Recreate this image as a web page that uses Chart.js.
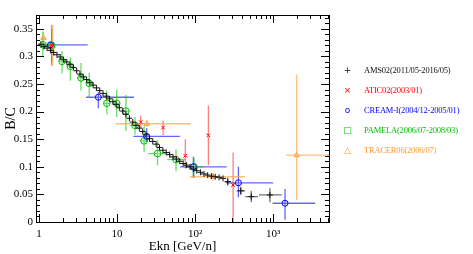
<!DOCTYPE html>
<html>
<head>
<meta charset="utf-8">
<script src="https://cdn.jsdelivr.net/npm/chart.js@4/dist/chart.umd.min.js"></script>
<style>
  html, body { margin: 0; padding: 0; background: #fff; }
  #wrap { position: relative; width: 473px; height: 254px; }
  #legend { position: absolute; left: 342px; top: 60px; font: 8.5px "Liberation Serif", serif; letter-spacing: -0.2px; }
  .row { height: 20px; display: flex; align-items: center; white-space: nowrap; }
  .mk { width: 11px; text-align: center; margin-right: 11px; font: 9px "DejaVu Sans", sans-serif; letter-spacing: 0; }
</style>
</head>
<body>
<div id="wrap">
  <canvas id="bc" width="473" height="254"></canvas>
  <div id="legend"></div>
</div>
<script>
// ---- data ----
const xTicks = [1, 10, 100, 1000];
const yTicks = [0, 0.05, 0.1, 0.15, 0.2, 0.25, 0.3, 0.35];

// AMS02 (2011/05-2016/05)
const amsE  = [1.06,1.16,1.27,1.40,1.54,1.70,1.87,2.06,2.27,2.50,2.76,3.04,3.35,3.69,4.07,4.48,4.94,5.44,6.00,6.61,7.28,8.02,8.84,9.74,10.7,11.8,13.0,14.4,15.9,17.5,19.3,21.3,23.5,26.0,28.7,31.7,35.0,38.7,42.7,47.2,52.1,57.6,63.7,70.4,77.8,86.0,95.0,105,117,130,145,162,181,203,228];
const amsBC = [0.322,0.318,0.315,0.311,0.307,0.303,0.299,0.294,0.290,0.285,0.280,0.274,0.268,0.263,0.258,0.253,0.248,0.243,0.238,0.233,0.228,0.223,0.218,0.213,0.207,0.201,0.195,0.188,0.181,0.175,0.170,0.164,0.158,0.151,0.146,0.141,0.135,0.130,0.126,0.122,0.118,0.114,0.110,0.106,0.103,0.100,0.096,0.093,0.090,0.087,0.085,0.083,0.082,0.081,0.079];
const amsTailE   = [262, 385, 525, 910];
const amsTailBC  = [0.073, 0.0565, 0.046, 0.049];
const amsTailLo  = [0.066, 0.049, 0.036, 0.036];
const amsTailHi  = [0.080, 0.064, 0.056, 0.061];
const amsTailXLo = [240, 340, 437, 660];
const amsTailXHi = [290, 437, 640, 1290];

// ATIC02 (2003/01)
const atE  = [1.45, 20.1, 38.9, 75, 148, 307];
const atBC = [0.320, 0.181, 0.171, 0.120, 0.157, 0.067];
const atLo = [0.283, 0.170, 0.157, 0.097, 0.103, 0.0];
const atHi = [0.357, 0.193, 0.184, 0.150, 0.211, 0.126];

// CREAM-I (2004/12-2005/01)
const crE   = [1.4, 5.76, 24, 95, 359, 1420];
const crBC  = [0.321, 0.226, 0.155, 0.100, 0.071, 0.034];
const crLo  = [0.316, 0.206, 0.145, 0.080, 0.045, 0.004];
const crHi  = [0.326, 0.235, 0.170, 0.118, 0.100, 0.060];
const crXLo = [1.0, 4.0, 16.2, 64, 250, 983];
const crXHi = [4.2, 16.5, 64, 254, 1000, 3460];

// PAMELA (2006/07-2008/03)
const paE   = [1.12, 1.45, 1.97, 2.52, 3.45, 4.4, 7.4, 9.9, 13, 17, 22.2, 33, 57, 97];
const paBC  = [0.321, 0.320, 0.291, 0.282, 0.261, 0.251, 0.215, 0.215, 0.201, 0.175, 0.147, 0.124, 0.113, 0.100];
const paLo  = [0.301, 0.290, 0.269, 0.256, 0.238, 0.226, 0.195, 0.190, 0.165, 0.158, 0.127, 0.103, 0.092, 0.080];
const paHi  = [0.345, 0.350, 0.310, 0.298, 0.288, 0.270, 0.238, 0.240, 0.230, 0.190, 0.175, 0.148, 0.132, 0.117];
const paXLo = [1.0, 1.3, 1.8, 2.3, 3.1, 4.0, 6.7, 9.0, 11.8, 14.7, 19.6, 25, 44, 74];
const paXHi = [1.25, 1.6, 2.15, 2.75, 3.8, 4.9, 8.2, 10.9, 14.3, 19.6, 25, 44, 74, 127];

// TRACER06 (2006/07)
const trE   = [1.14, 1.5, 24, 170, 2000];
const trBC  = [0.333, 0.318, 0.178, 0.082, 0.121];
const trLo  = [0.322, 0.283, 0.172, 0.075, 0.040];
const trHi  = [0.344, 0.357, 0.184, 0.089, 0.267];
const trXLo = [1.05, 1.35, 9.6, 86, 1470];
const trXHi = [1.25, 1.65, 87.6, 437, 6000];

// ---- build points ----
function pts(E, V, lo, hi, xlo, xhi) {
  return E.map((e, i) => ({
    x: e, y: V[i],
    yLo: lo ? lo[i] : null, yHi: hi ? hi[i] : null,
    xLo: xlo ? xlo[i] : null, xHi: xhi ? xhi[i] : null
  }));
}

const amsPts = pts(amsE, amsBC).concat(pts(amsTailE, amsTailBC, amsTailLo, amsTailHi, amsTailXLo, amsTailXHi));

const series = [
  { label: 'AMS02(2011/05-2016/05)', color: '#111111', bar: 'rgba(0,0,0,0.55)', style: 'cross', r: 3, sym: '+', data: amsPts },
  { label: 'ATIC02(2003/01)', color: '#ff0000', bar: 'rgba(255,0,0,0.5)', style: 'crossRot', r: 2.5, sym: '×', data: pts(atE, atBC, atLo, atHi) },
  { label: 'CREAM-I(2004/12-2005/01)', color: '#0000ff', bar: 'rgba(0,0,255,0.6)', style: 'circle', r: 3, sym: 'o', data: pts(crE, crBC, crLo, crHi, crXLo, crXHi) },
  { label: 'PAMELA(2006/07-2008/03)', color: '#00c000', bar: 'rgba(0,200,0,0.6)', style: 'circle', r: 3.3, sym: '□', data: pts(paE, paBC, paLo, paHi, paXLo, paXHi) },
  { label: 'TRACER06(2006/07)', color: '#ff9a33', bar: 'rgba(255,150,50,0.6)', style: 'triangle', r: 3, sym: '△', data: pts(trE, trBC, trLo, trHi, trXLo, trXHi) }
];

// error bars under the markers
const errorBars = {
  id: 'errorBars',
  beforeDatasetsDraw(chart) {
    const { ctx, chartArea: a, scales: { x, y } } = chart;
    ctx.save();
    ctx.beginPath();
    ctx.rect(a.left, a.top, a.right - a.left, a.bottom - a.top);
    ctx.clip();
    chart.data.datasets.forEach(ds => {
      ctx.strokeStyle = ds.barColor;
      ctx.lineWidth = 1.3;
      ds.data.forEach(p => {
        const px = x.getPixelForValue(p.x), py = y.getPixelForValue(p.y);
        ctx.beginPath();
        if (p.yLo != null) {
          ctx.moveTo(px, y.getPixelForValue(p.yLo));
          ctx.lineTo(px, y.getPixelForValue(p.yHi));
        }
        if (p.xLo != null) {
          ctx.moveTo(x.getPixelForValue(p.xLo), py);
          ctx.lineTo(x.getPixelForValue(p.xHi), py);
        }
        ctx.stroke();
      });
    });
    ctx.restore();
  }
};

// box frame with inward ticks on all four sides
const frame = {
  id: 'frame',
  afterDraw(chart) {
    const { ctx, chartArea: a, scales: { x, y } } = chart;
    ctx.save();
    ctx.strokeStyle = '#000';
    ctx.lineWidth = 1;
    ctx.beginPath();
    for (let d = 1; d <= 1000; d *= 10) {
      for (let m = 1; m <= 9; m++) {
        const v = m * d;
        if (v < x.min || v > x.max) continue;
        const px = Math.round(x.getPixelForValue(v)) + 0.5;
        const len = m === 1 ? 8 : 4;
        ctx.moveTo(px, a.bottom); ctx.lineTo(px, a.bottom - len);
        ctx.moveTo(px, a.top); ctx.lineTo(px, a.top + len);
      }
    }
    for (let k = 0; k <= 37; k++) {
      const py = Math.round(y.getPixelForValue(k / 100)) + 0.5;
      const len = k % 5 === 0 ? 8 : 4;
      ctx.moveTo(a.left, py); ctx.lineTo(a.left + len, py);
      ctx.moveTo(a.right, py); ctx.lineTo(a.right - len, py);
    }
    ctx.stroke();
    ctx.strokeRect(Math.round(a.left) + 0.5, Math.round(a.top) + 0.5, Math.round(a.right - a.left), Math.round(a.bottom - a.top));
    ctx.restore();
  }
};

const xNames = { 1: '1', 10: '10', 100: '10²', 1000: '10³' };
const tickFont = { family: 'Liberation Serif', size: 11 };

new Chart(document.getElementById('bc'), {
  type: 'scatter',
  data: {
    datasets: series.map(s => ({
      label: s.label,
      data: s.data,
      pointStyle: s.style,
      pointRadius: s.r,
      pointHoverRadius: s.r,
      borderColor: s.color,
      backgroundColor: s.style === 'crossRot' || s.style === 'cross' ? s.color : 'rgba(255,255,255,0)',
      borderWidth: 1,
      barColor: s.bar
    }))
  },
  options: {
    responsive: false,
    devicePixelRatio: 1,
    animation: false,
    layout: { padding: { left: 0, right: 144, top: 15, bottom: 0 } },
    plugins: { legend: { display: false }, tooltip: { enabled: false } },
    scales: {
      x: {
        type: 'logarithmic',
        min: 0.915, max: 5200,
        grid: { display: false, drawTicks: false },
        border: { display: false },
        afterBuildTicks: s => { s.ticks = xTicks.map(v => ({ value: v })); },
        afterFit: s => { s.height = 32; },
        ticks: {
          autoSkip: false, maxRotation: 0, padding: 6,
          color: '#000', font: tickFont,
          callback: v => xNames[v] || ''
        },
        title: { display: true, text: 'Ekn [GeV/n]', color: '#000', font: { family: 'Liberation Serif', size: 13 }, padding: { top: 0, bottom: 0 } }
      },
      y: {
        min: 0, max: 0.375,
        grid: { display: false, drawTicks: false },
        border: { display: false },
        afterBuildTicks: s => { s.ticks = yTicks.map(v => ({ value: v })); },
        afterFit: s => { s.width = 36; },
        ticks: {
          autoSkip: false, padding: 3,
          color: '#000', font: tickFont,
          callback: v => String(+v.toFixed(2))
        },
        title: { display: true, text: 'B/C', color: '#000', font: { family: 'Liberation Serif', size: 14 }, padding: { top: 3, bottom: 0 } }
      }
    }
  },
  plugins: [errorBars, frame]
});

// legend on the right
const legend = document.getElementById('legend');
series.forEach(s => {
  const row = document.createElement('div');
  row.className = 'row';
  row.style.color = s.color;
  row.innerHTML = '<span class="mk">' + s.sym + '</span><span>' + s.label + '</span>';
  legend.appendChild(row);
});
</script>
</body>
</html>
